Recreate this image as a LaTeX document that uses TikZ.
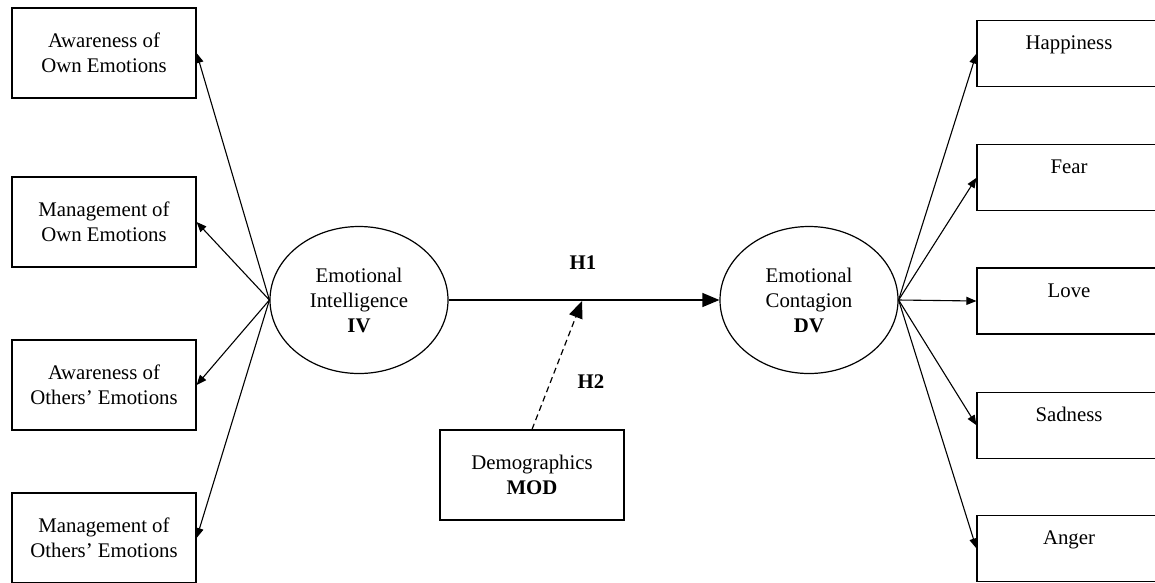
\documentclass[tikz,border=0pt]{standalone}
\usepackage{fontspec}
\setmainfont{Liberation Serif}
\usepackage{tikz}
\usetikzlibrary{positioning,arrows.meta,shapes.geometric}

\begin{document}
\begin{tikzpicture}[
    x=1pt, y=-1pt,
    node distance=57pt,
    every node/.style={font=\fontsize{20.8}{25}\selectfont},
    dimbox/.style={draw, line width=1.2pt, minimum width=184pt, minimum height=90pt,
                   align=center, inner sep=0pt},
    emobox/.style={draw, line width=1.2pt, minimum width=184pt, text height=14pt,
                   text depth=22pt, inner ysep=15pt},
    construct/.style={draw, ellipse, line width=1.2pt, minimum width=178pt,
                      minimum height=147pt, align=center, inner sep=0pt},
    hyp/.style={font=\fontsize{20.8}{25}\selectfont\bfseries},
    arr/.style={-{Triangle[length=10pt, width=8pt]}, line width=1.1pt},
    bigarr/.style={-{Triangle[length=17pt, width=14pt]}, line width=1.2pt},
  ]
  \useasboundingbox (0,0) rectangle (1155,582);

  % dimensions of emotional intelligence
  \node[dimbox] (awown) at (104,53)  {Awareness of\\Own Emotions};
  \node[dimbox] (mgown) at (104,222) {Management of\\Own Emotions};
  \node[dimbox] (awoth) at (104,385) {Awareness of\\Others' Emotions};
  \node[dimbox] (mgoth) at (104,538) {Management of\\Others' Emotions};

  % constructs and moderator
  \node[construct] (ei) at (359,300) {Emotional\\Intelligence\\\textbf{IV}};
  \node[construct] (ec) at (809,300) {Emotional\\Contagion\\\textbf{DV}};
  \node[dimbox] (demo) at (532,475) {Demographics\\\textbf{MOD}};

  % emotions
  \node[emobox, anchor=north] (happy) at (1069,20) {Happiness};
  \node[emobox, below=57pt of happy] (fear)  {Fear};
  \node[emobox, below=56pt of fear]  (love)  {Love};
  \node[emobox, below=57pt of love]  (sad)   {Sadness};
  \node[emobox, below=56pt of sad]   (anger) {Anger};

  \coordinate (modtip) at (582,301);
  \node[hyp] (h1) at (583,263) {H1};
  \node[hyp] (h2) at (591,382) {H2};

  \draw[bigarr] (ei.east) -- (ec.west);
  \draw[bigarr, dashed, dash pattern=on 6pt off 4pt] (demo.north) -- (modtip);
  \foreach \b in {awown, mgown, awoth, mgoth}
    \draw[arr] (ei.west) -- (\b.east);
  \foreach \e in {happy, fear, love, sad, anger}
    \draw[arr] (ec.east) -- (\e.west);
\end{tikzpicture}
\end{document}
